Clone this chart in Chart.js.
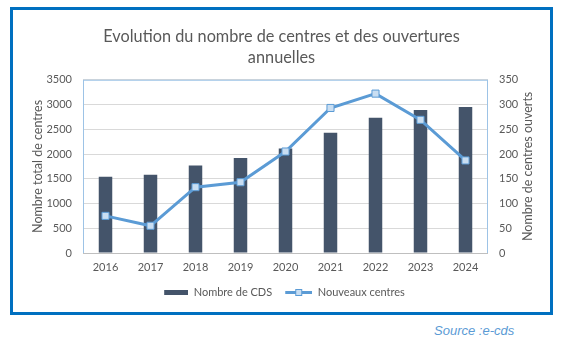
<!DOCTYPE html>
<html>
<head>
<meta charset="utf-8">
<script src="https://cdn.jsdelivr.net/npm/chart.js@4.4.1/dist/chart.umd.min.js"></script>
<style>
    body { margin: 0; background: #fff; width: 571px; height: 341px; position: relative; overflow: hidden }
    #frame { position: absolute; left: 10px; top: 7px; width: 537px; height: 302px; border: 3px solid #0070C0 }
    #frame canvas { display: block }
    #source { position: absolute; left: 434px; top: 323px; font: italic 13px "Liberation Sans", Arial, sans-serif; color: #5B9BD5 }
</style>
</head>
<body>
<div id="frame"><canvas id="chart" width="537" height="302"></canvas></div>
<div id="source">Source :e-cds</div>
<script>
const years = ["2016", "2017", "2018", "2019", "2020", "2021", "2022", "2023", "2024"]
const totalCentres = [1540, 1580, 1770, 1920, 2110, 2430, 2730, 2890, 2950]
const newCentres = [75, 55, 133, 143, 205, 293, 322, 269, 187]
const titleLines = ["Evolution du nombre de centres et des ouvertures", "annuelles"]
const leftTitle = "Nombre total de centres"
const rightTitle = "Nombre de centres ouverts"
const barLabel = "Nombre de CDS", lineLabel = "Nouveaux centres"

const grey = "#595959", barColor = "#44546A", lineColor = "#5B9BD5", markerFill = "#C9DEF2"
const font = "Lato, 'Liberation Sans', sans-serif"

// legend swatches drawn as small images
function swatch(kind) {
    const c = document.createElement("canvas")
    c.width = 30; c.height = 9
    const g = c.getContext("2d")
    if (kind === "bar") {
        g.fillStyle = barColor
        g.fillRect(6, 2, 24, 5)
    } else {
        g.fillStyle = lineColor
        g.fillRect(3, 3, 27, 3)
        g.fillStyle = markerFill
        g.strokeStyle = lineColor
        g.lineWidth = 1
        g.fillRect(13, 1, 7, 7)
        g.strokeRect(13.5, 1.5, 6, 6)
    }
    return c
}

const plotFrame = {
    id: "plotFrame",
    beforeDatasetsDraw(chart) {
        const { ctx, chartArea: a } = chart
        ctx.save()
        ctx.strokeStyle = "#9DC3E6"
        ctx.lineWidth = 1
        ctx.strokeRect(a.left + 0.5, a.top + 0.5, a.right - a.left - 1, a.bottom - a.top)
        ctx.strokeStyle = "#BFBFBF"
        ctx.beginPath()
        ctx.moveTo(a.left, a.bottom + 0.5)
        ctx.lineTo(a.right, a.bottom + 0.5)
        ctx.stroke()
        ctx.restore()
    },
    afterDraw(chart) {
        const s = chart.scales.y1, ctx = chart.ctx
        ctx.save()
        ctx.translate(s.right - 22, (s.top + s.bottom) / 2)
        ctx.rotate(-Math.PI / 2)
        ctx.font = "12.5px " + font
        ctx.fillStyle = grey
        ctx.textAlign = "center"
        ctx.textBaseline = "middle"
        ctx.fillText(rightTitle, 0, 0)
        ctx.restore()
    }
}

const plain = v => String(v)

new Chart(document.getElementById("chart"), {
    type: "bar",
    data: {
        labels: years,
        datasets: [{
            type: "line",
            label: lineLabel,
            data: newCentres,
            yAxisID: "y1",
            order: 0,
            borderColor: lineColor,
            borderWidth: 3,
            pointStyle: "rect",
            pointRadius: 5,
            pointBackgroundColor: markerFill,
            pointBorderColor: lineColor,
            pointBorderWidth: 1,
            tension: 0
        }, {
            type: "bar",
            label: barLabel,
            data: totalCentres,
            yAxisID: "y",
            order: 1,
            backgroundColor: barColor,
            barPercentage: 0.3,
            categoryPercentage: 1
        }]
    },
    options: {
        responsive: false,
        animation: false,
        layout: { padding: { left: 0, right: 0, top: 0, bottom: 4 } },
        plugins: {
            title: {
                display: true,
                text: titleLines,
                color: grey,
                font: { family: font, size: 16.3, weight: "normal", lineHeight: 1.25 },
                padding: { top: 17, bottom: 12 }
            },
            legend: {
                position: "bottom",
                labels: {
                    usePointStyle: true,
                    pointStyleWidth: 30,
                    padding: 10,
                    color: grey,
                    font: { family: font, size: 11 },
                    generateLabels: () => [
                        { text: barLabel, pointStyle: swatch("bar"), fontColor: grey, lineWidth: 0, strokeStyle: "transparent", datasetIndex: 1 },
                        { text: lineLabel, pointStyle: swatch("line"), fontColor: grey, lineWidth: 0, strokeStyle: "transparent", datasetIndex: 0 }
                    ]
                }
            },
            tooltip: { enabled: false }
        },
        scales: {
            x: {
                grid: { display: false, drawTicks: false },
                border: { display: false },
                ticks: { color: grey, font: { family: font, size: 11 }, padding: 8 },
                afterFit: s => { s.height = 24 }
            },
            y: {
                position: "left",
                min: 0, max: 3500,
                ticks: { stepSize: 500, callback: plain, color: grey, font: { family: font, size: 11 }, padding: 11 },
                grid: { color: "#D9D9D9", drawTicks: false },
                border: { display: false },
                title: { display: true, text: leftTitle, color: grey, font: { family: font, size: 12.5 }, padding: { top: 17, bottom: 0 } },
                afterFit: s => { s.width = 70 }
            },
            y1: {
                position: "right",
                min: 0, max: 350,
                ticks: { stepSize: 50, callback: plain, color: grey, font: { family: font, size: 11 }, padding: 11 },
                grid: { display: false, drawTicks: false },
                border: { display: false },
                afterFit: s => { s.width = 62 }
            }
        }
    },
    plugins: [plotFrame]
})
</script>
</body>
</html>
